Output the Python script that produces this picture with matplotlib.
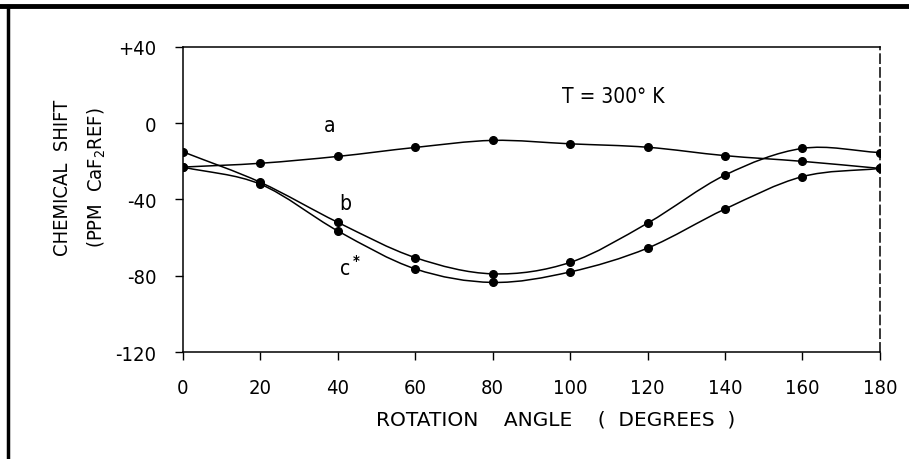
import numpy as np
import matplotlib as mpl
mpl.use("Agg")
import matplotlib.pyplot as plt
from matplotlib.path import Path
from matplotlib.patches import PathPatch
from matplotlib.lines import Line2D

plt.rcParams['font.family'] = ['DejaVu Sans']
plt.rcParams['font.stretch'] = 'condensed'

# rotation angle (degrees) and chemical shift (ppm, CaF2 ref)
angle = [0, 20, 40, 60, 80, 100, 120, 140, 160, 180]
shift_a = [-23, -21, -17.4, -12.7, -9, -10.8, -12.6, -17, -20, -23.7]
shift_b = [-15, -31, -52, -70.5, -79, -73, -52.4, -27.2, -13.2, -15.4]
shift_c = [-23, -32, -56.5, -76.4, -83.5, -78, -65.5, -45, -28, -23.7]

xticks = [0, 20, 40, 60, 80, 100, 120, 140, 160, 180]
xticklabels = ['0', '20', '40', '60', '80', '100', '120', '140', '160', '180']
yticks = [-120, -80, -40, 0, 40]
yticklabels = ['-120', '-80', '-40', '0', '+40']


def smooth_path(x, y):
    # catmull-rom through the points, drawn as cubic bezier segments
    x = np.asarray(x, float)
    y = np.asarray(y, float)
    pts = np.column_stack([x, y])
    ext = np.vstack([2 * pts[0] - pts[1], pts, 2 * pts[-1] - pts[-2]])
    verts = [tuple(pts[0])]
    codes = [Path.MOVETO]
    for i in range(1, len(ext) - 2):
        p0, p1, p2, p3 = ext[i - 1], ext[i], ext[i + 1], ext[i + 2]
        c1 = p1 + (p2 - p0) / 6.0
        c2 = p2 - (p3 - p1) / 6.0
        verts += [tuple(c1), tuple(c2), tuple(p2)]
        codes += [Path.CURVE4] * 3
    return Path(verts, codes)


fig = plt.figure(figsize=(9.09, 4.6), dpi=100)
ax = fig.add_axes([0.2013, 0.2326, 0.7667, 0.6631])

for ys in (shift_a, shift_b, shift_c):
    ax.add_patch(PathPatch(smooth_path(angle, ys), facecolor='none',
                           edgecolor='black', lw=1.1))
    ax.plot(angle, ys, 'o', color='black', ms=5.5, mec='black')

ax.set_xlim(0, 180)
ax.set_ylim(-120, 40)
ax.set_xticks(xticks)
ax.set_xticklabels(xticklabels)
ax.set_yticks(yticks)
ax.set_yticklabels(yticklabels)
ax.tick_params(axis='both', direction='out', length=6, width=1,
               labelsize=14.5, color='black')
ax.tick_params(axis='x', pad=13)
ax.tick_params(axis='y', pad=13)
for s in ax.spines.values():
    s.set_linewidth(1.1)
ax.spines['right'].set_linestyle((0, (6, 3)))

ax.text(38, -1, 'a', fontsize=15, ha='center', va='center')
ax.text(42, -42, 'b', fontsize=15, ha='center', va='center')
ax.text(43, -75, 'c$^{\\bf *}$', fontsize=15, ha='center', va='center')
ax.text(111, 14.5, 'T = 300° K', fontsize=15, ha='center', va='center')

fig.text(0.414, 0.087, 'ROTATION    ANGLE    (  DEGREES  )', fontsize=14.5,
         fontstretch='normal', ha='left', va='center')
fig.text(0.069, 0.613, 'CHEMICAL  SHIFT', fontsize=14.5, rotation=90,
         ha='center', va='center')
fig.text(0.107, 0.613, '(PPM  CaF$_2$REF)', fontsize=14.5, rotation=90,
         ha='center', va='center')

# frame of the scanned figure: top and left edges
fig.add_artist(Line2D([0, 1], [0.985, 0.985], transform=fig.transFigure,
                      color='black', lw=3.5))
fig.add_artist(Line2D([0.0085, 0.0085], [0, 0.985], transform=fig.transFigure,
                      color='black', lw=2.5))

fig.savefig('out.png', dpi=100)
